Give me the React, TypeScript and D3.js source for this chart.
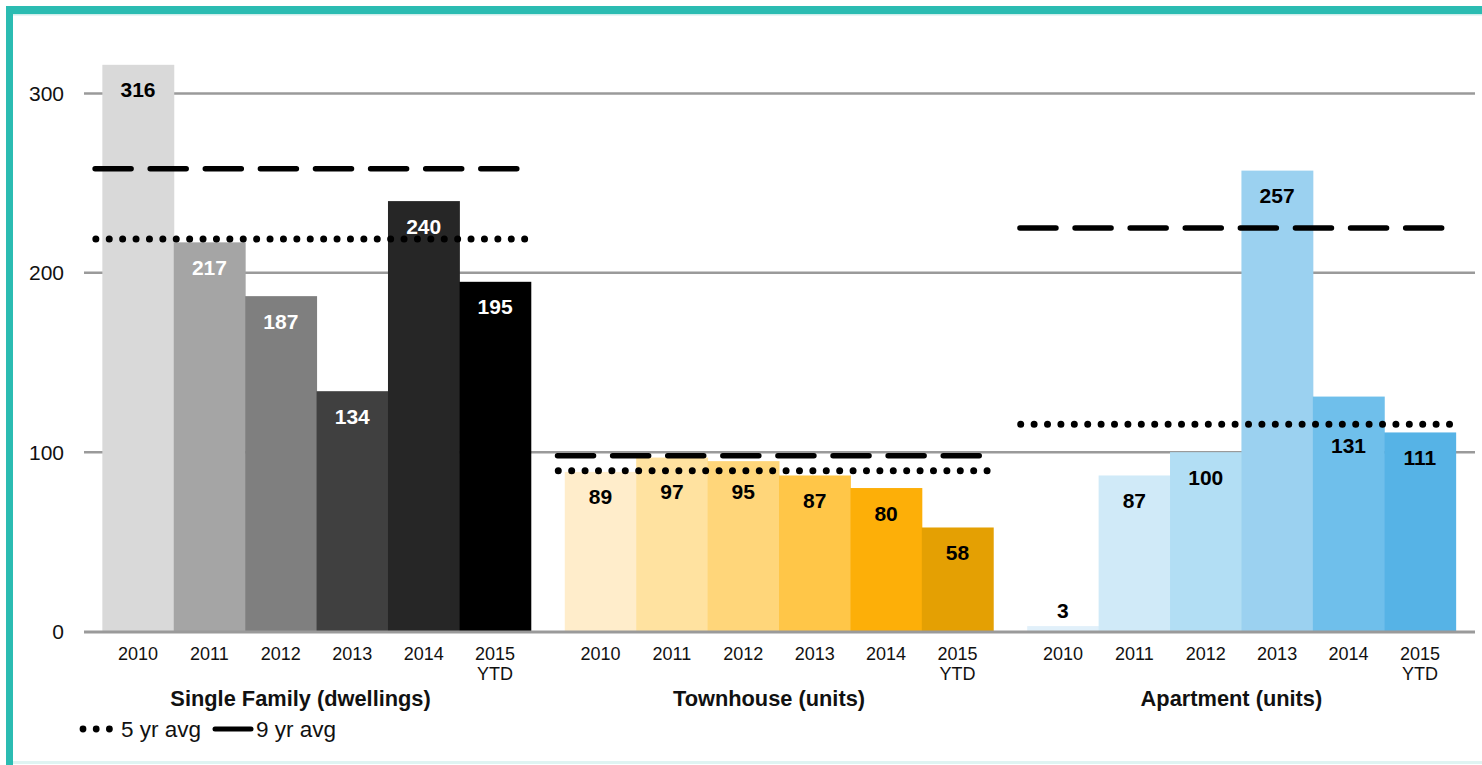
import React, { useRef, useEffect } from "react";
import * as d3 from "d3";

// categories / groups
const groups = ["Single Family (dwellings)", "Townhouse (units)", "Apartment (units)"];
const years = ["2010", "2011", "2012", "2013", "2014", "2015 YTD"];

// series values per group (same order as years)
const singleFamily = [316, 217, 187, 134, 240, 195];
const townhouse = [89, 97, 95, 87, 80, 58];
const apartment = [3, 87, 100, 257, 131, 111];

// averages per group
const fiveYrAvg = [218.8, 89.6, 115.6];
const nineYrAvg = [258, 98, 225];

const yTicks = [0, 100, 200, 300];
const legendLabels = ["5 yr avg", "9 yr avg"];

// bar colours per group
const greyShades = ["#d9d9d9", "#a5a5a5", "#7f7f7f", "#404040", "#262626", "#000000"];
const orangeShades = ["#ffedcb", "#ffe2a0", "#ffd67a", "#ffc648", "#fdaf08", "#e4a003"];
const blueShades = ["#e1f0fa", "#d0eaf8", "#b2def4", "#9bd1f0", "#6fbfeb", "#56b3e6"];

const FONT = "'Liberation Sans', Arial, Helvetica, sans-serif";

export default function App() {
  const ref = useRef<SVGSVGElement | null>(null);

  useEffect(() => {
    const width = 1482;
    const height = 765;
    const values = [singleFamily, townhouse, apartment];
    const shades = [greyShades, orangeShades, blueShades];
    // white labels only on the darker grey bars
    const whiteLabel = [[false, true, true, true, true, true], [], []];
    const titleShift = [-16, -10, -10];

    d3.select(ref.current).selectAll("*").remove();

    const svg = d3
      .select(ref.current)
      .attr("width", width)
      .attr("height", height)
      .style("background", "#fff")
      .style("font-family", FONT);

    // frame
    svg.append("rect").attr("x", 6).attr("y", 6).attr("width", width - 6).attr("height", 8).attr("fill", "#2bbcb2");
    svg.append("rect").attr("x", 13).attr("y", 14).attr("width", width - 13).attr("height", 1.5).attr("fill", "#cfeeeb");
    svg.append("rect").attr("x", 6).attr("y", 6).attr("width", 7).attr("height", height - 6).attr("fill", "#2bbcb2");
    svg.append("rect").attr("x", 13).attr("y", 761).attr("width", width - 13).attr("height", 3).attr("fill", "#dff4f2");

    const y = d3.scaleLinear().domain([0, 300]).range([631.5, 93.5]);

    const xGroup = d3
      .scaleBand()
      .domain(groups)
      .range([82, 1476])
      .paddingInner(0.0735)
      .paddingOuter(0.044);

    const xYear = d3.scaleBand().domain(years).range([0, xGroup.bandwidth()]).padding(0);

    // gridlines (behind bars)
    svg
      .append("g")
      .selectAll("line")
      .data(yTicks.filter((t) => t > 0))
      .join("line")
      .attr("x1", 84)
      .attr("x2", 1475)
      .attr("y1", (d) => y(d))
      .attr("y2", (d) => y(d))
      .attr("stroke", "#9a9a9a")
      .attr("stroke-width", 2.5);

    // y tick labels
    svg
      .append("g")
      .selectAll("text")
      .data(yTicks)
      .join("text")
      .attr("x", 64)
      .attr("y", (d) => y(d))
      .attr("text-anchor", "end")
      .attr("dominant-baseline", "central")
      .attr("font-size", 21)
      .attr("fill", "#111")
      .text((d) => d);

    groups.forEach((g, gi) => {
      const gx = xGroup(g)!;
      const layer = svg.append("g").attr("transform", `translate(${gx},0)`);
      const data = years.map((yr, i) => ({ yr, v: values[gi][i], i }));

      layer
        .selectAll("rect")
        .data(data)
        .join("rect")
        .attr("x", (d) => xYear(d.yr)!)
        .attr("width", xYear.bandwidth() + 0.5)
        .attr("y", (d) => y(d.v))
        .attr("height", (d) => y(0) - y(d.v))
        .attr("fill", (d) => shades[gi][d.i]);

      // x tick labels (two lines for YTD)
      const ticks = layer
        .selectAll("text.tick")
        .data(data)
        .join("text")
        .attr("class", "tick")
        .attr("x", (d) => xYear(d.yr)! + xYear.bandwidth() / 2)
        .attr("y", 654)
        .attr("text-anchor", "middle")
        .attr("dominant-baseline", "central")
        .attr("font-size", 18)
        .attr("fill", "#111");
      ticks.each(function (d) {
        const parts = d.yr.split(" ");
        d3.select(this)
          .selectAll("tspan")
          .data(parts)
          .join("tspan")
          .attr("x", xYear(d.yr)! + xYear.bandwidth() / 2)
          .attr("dy", (_p, k) => (k === 0 ? 0 : 20))
          .text((p) => p);
      });

      // group title
      layer
        .append("text")
        .attr("x", xGroup.bandwidth() / 2 + titleShift[gi])
        .attr("y", 698)
        .attr("text-anchor", "middle")
        .attr("dominant-baseline", "central")
        .attr("font-size", 21.8)
        .attr("font-weight", "bold")
        .attr("fill", "#111")
        .text(g);
    });

    // zero axis line on top of bars
    svg
      .append("line")
      .attr("x1", 84)
      .attr("x2", 1475)
      .attr("y1", y(0) + 0.5)
      .attr("y2", y(0) + 0.5)
      .attr("stroke", "#9a9a9a")
      .attr("stroke-width", 3);

    // average lines
    groups.forEach((g, gi) => {
      const x0 = xGroup(g)! - 10;
      const x1 = xGroup(g)! + xGroup.bandwidth() - 2;
      svg
        .append("line")
        .attr("x1", x0 + 2.75)
        .attr("x2", x1)
        .attr("y1", y(nineYrAvg[gi]))
        .attr("y2", y(nineYrAvg[gi]))
        .attr("stroke", "#000")
        .attr("stroke-width", 5.5)
        .attr("stroke-linecap", "round")
        .attr("stroke-dasharray", "36 19.1");
      svg
        .append("line")
        .attr("x1", x0 + 3.5)
        .attr("x2", x1)
        .attr("y1", y(fiveYrAvg[gi]))
        .attr("y2", y(fiveYrAvg[gi]))
        .attr("stroke", "#000")
        .attr("stroke-width", 7)
        .attr("stroke-linecap", "round")
        .attr("stroke-dasharray", "0 13.4");
    });

    // value labels
    groups.forEach((g, gi) => {
      const gx = xGroup(g)!;
      const lines = [y(fiveYrAvg[gi]), y(nineYrAvg[gi])];
      years.forEach((yr, i) => {
        const v = values[gi][i];
        const top = y(v);
        let ly = top + 25;
        if (y(0) - top < 30) ly = top - 16;
        lines.forEach((l) => {
          const d = ly - l;
          if (d > -10 && d < 21) ly = l + 21;
        });
        svg
          .append("text")
          .attr("x", gx + xYear(yr)! + xYear.bandwidth() / 2)
          .attr("y", ly)
          .attr("text-anchor", "middle")
          .attr("dominant-baseline", "central")
          .attr("font-size", 21)
          .attr("font-weight", "bold")
          .attr("fill", whiteLabel[gi][i] ? "#fff" : "#000")
          .text(v);
      });
    });

    // legend
    const legend = svg.append("g").attr("transform", "translate(0,729)");
    legend
      .selectAll("circle")
      .data([0, 1, 2])
      .join("circle")
      .attr("cx", (d) => 83 + d * 13.2)
      .attr("cy", 0)
      .attr("r", 3.4)
      .attr("fill", "#000");
    legend
      .append("text")
      .attr("x", 121)
      .attr("y", 0)
      .attr("dominant-baseline", "central")
      .attr("font-size", 22.5)
      .attr("fill", "#111")
      .text(legendLabels[0]);
    legend
      .append("line")
      .attr("x1", 215)
      .attr("x2", 251)
      .attr("y1", 0)
      .attr("y2", 0)
      .attr("stroke", "#000")
      .attr("stroke-width", 5)
      .attr("stroke-linecap", "round");
    legend
      .append("text")
      .attr("x", 256)
      .attr("y", 0)
      .attr("dominant-baseline", "central")
      .attr("font-size", 22.5)
      .attr("fill", "#111")
      .text(legendLabels[1]);
  }, []);

  return (
    <div style={{ position: "absolute", left: 0, top: 0 }}>
      <svg ref={ref} style={{ display: "block" }}></svg>
    </div>
  );
}
